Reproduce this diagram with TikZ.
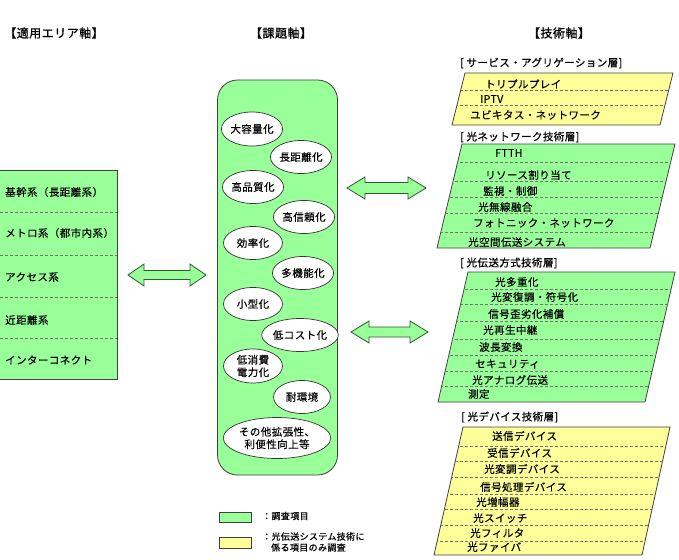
\documentclass[tikz,border=0pt]{standalone}
\usepackage{fontspec}
\setmainfont{Noto Sans CJK JP}[LetterSpace=4,FakeBold=0.35]
\usetikzlibrary{shapes.geometric}
\definecolor{lgreen}{HTML}{99FF99}
\definecolor{lyellow}{HTML}{FFFF99}
\definecolor{edgec}{HTML}{404040}
\definecolor{arrowedge}{HTML}{2E5A2E}
\newcommand{\dblarrow}[5]{% x1, x2, yc, head len, shaft half
  \draw[bigarrow] (#1,#3) -- (#1+#4,#3-11) -- (#1+#4,#3-#5) -- (#2-#4,#3-#5) -- (#2-#4,#3-11)
    -- (#2,#3) -- (#2-#4,#3+11) -- (#2-#4,#3+#5) -- (#1+#4,#3+#5) -- (#1+#4,#3+11) -- cycle;}
\begin{document}
\begin{tikzpicture}[x=1pt,y=-1pt,
  font=\fontsize{10.5}{12.5}\selectfont,
  hdr/.style={font=\fontsize{12}{14}\selectfont\addfontfeature{FakeBold=1.2}, inner sep=0},
  lyr/.style={font=\fontsize{10.5}{12}\selectfont\addfontfeature{FakeBold=0.8}, anchor=west, inner sep=0},
  itm/.style={anchor=west, inner sep=0},
  area/.style={draw=edgec, fill=lgreen, line width=0.8pt},
  rowline/.style={draw=black!55, densely dashed, line width=0.4pt},
  goal/.style={ellipse, draw=black!80, fill=white, line width=0.7pt, inner sep=0, align=center},
  bigarrow/.style={draw=arrowedge, fill=lgreen, line width=0.8pt, line join=miter},
  legtxt/.style={font=\fontsize{9}{11}\selectfont\addfontfeature{FakeBold=0.8}, anchor=west, inner sep=0, align=left}]
\useasboundingbox (0,0) rectangle (679,559);

% headers
\node[hdr] (h1) at (54,33) {【適用エリア軸】};
\node[hdr] (h2) at (281,33) {【課題軸】};
\node[hdr] (h3) at (559,33) {【技術軸】};

% application area box
\path[area] (-5,170) rectangle (117,379);
\foreach \y in {212,255,297,338} \draw[rowline] (-5,\y) -- (117,\y);
\node[itm] (a1) at (5,192) {基幹系（長距離系）};
\node[itm] (a2) at (5,233) {メトロ系（都市内系）};
\node[itm] (a3) at (5,277) {アクセス系};
\node[itm] (a4) at (5,320) {近距離系};
\node[itm] (a5) at (5,360) {インターコネクト};

% issue axis
\node[draw=edgec, fill=lgreen, line width=0.8pt, rounded corners=20pt,
      minimum width=120pt, minimum height=395pt] (issue) at (277.5,277.5) {};
\node[goal, minimum width=59pt, minimum height=34pt] (g1) at (252,129) {大容量化};
\node[goal, minimum width=58pt, minimum height=33pt] (g2) at (301,157) {長距離化};
\node[goal, minimum width=59pt, minimum height=33pt] (g3) at (253,187) {高品質化};
\node[goal, minimum width=57pt, minimum height=33pt] (g4) at (304,217) {高信頼化};
\node[goal, minimum width=59pt, minimum height=33pt] (g5) at (253,243) {効率化};
\node[goal, minimum width=57pt, minimum height=33pt] (g6) at (303,273) {多機能化};
\node[goal, minimum width=59pt, minimum height=33pt] (g7) at (253,304) {小型化};
\node[goal, minimum width=64pt, minimum height=33pt] (g8) at (300,335) {低コスト化};
\node[goal, minimum width=59pt, minimum height=34pt, align=left] (g9) at (253,366) {低消費\\電力化};
\node[goal, minimum width=57pt, minimum height=33pt] (g10) at (302,397) {耐環境};
\node[goal, minimum width=101pt, minimum height=41pt] (g11) at (277,438) {その他拡張性、\\利便性向上等};

% double arrows
\dblarrow{128}{206}{275}{16}{4.5}
\dblarrow{347}{426}{188}{18}{5.5}
\dblarrow{351}{428}{332}{18}{5}

% ---- technology axis ----
% layer 1: service aggregation (yellow)
\node[lyr] (l1) at (460,63) {[ サービス・アグリゲーション層]};
\coordinate (y1TL) at (465,73); \coordinate (y1TR) at (673,73);
\coordinate (y1BR) at (660,125); \coordinate (y1BL) at (452,125);
\draw[area, fill=lyellow] (y1TL) -- (y1TR) -- (y1BR) -- (y1BL) -- cycle;
\begin{scope}
  \clip (y1TL) -- (y1TR) -- (y1BR) -- (y1BL) -- cycle;
  \foreach \y in {90,105} \draw[rowline] (420,\y) -- (690,\y);
\end{scope}
\node[itm] (s1) at (485,84) {トリプルプレイ};
\node[itm] (s2) at (480,99) {IPTV};
\node[itm] (s3) at (470,115) {ユビキタス・ネットワーク};

% layer 2: optical network (green)
\node[lyr] (l2) at (460,137) {[ 光ネットワーク技術層]};
\coordinate (g1TL) at (462,144); \coordinate (g1TR) at (675,144);
\coordinate (g1BR) at (650,248); \coordinate (g1BL) at (437,248);
\draw[area] (g1TL) -- (g1TR) -- (g1BR) -- (g1BL) -- cycle;
\begin{scope}
  \clip (g1TL) -- (g1TR) -- (g1BR) -- (g1BL) -- cycle;
  \foreach \y in {162,181,197,213,232} \draw[rowline] (420,\y) -- (690,\y);
\end{scope}
\node[itm] (n1) at (495,153) {FTTH};
\node[itm] (n2) at (485,175) {リソース割り当て};
\node[itm] (n3) at (483,191) {監視・制御};
\node[itm] (n4) at (478,207) {光無線融合};
\node[itm] (n5) at (473,223) {フォトニック・ネットワーク};
\node[itm] (n6) at (468,242) {光空間伝送システム};

% layer 3: transmission (green)
\node[lyr] (l3) at (460,263) {[ 光伝送方式技術層]};
\coordinate (g2TL) at (468,272); \coordinate (g2TR) at (675,272);
\coordinate (g2BR) at (645,402); \coordinate (g2BL) at (438,402);
\draw[area] (g2TL) -- (g2TR) -- (g2BR) -- (g2BL) -- cycle;
\begin{scope}
  \clip (g2TL) -- (g2TR) -- (g2BR) -- (g2BL) -- cycle;
  \foreach \y in {289,304,321,339,355,371,386} \draw[rowline] (420,\y) -- (690,\y);
\end{scope}
\node[itm] (t1) at (495,282) {光多重化};
\node[itm] (t2) at (491,297) {光変復調・符号化};
\node[itm] (t3) at (488,314) {信号歪劣化補償};
\node[itm] (t4) at (483,330) {光再生中継};
\node[itm] (t5) at (479,347) {波長変換};
\node[itm] (t6) at (475,364) {セキュリティ};
\node[itm] (t7) at (472,380) {光アナログ伝送};
\node[itm] (t8) at (468,394) {測定};

% layer 4: devices (yellow)
\node[lyr] (l4) at (461,417) {[ 光デバイス技術層]};
\coordinate (y2TL) at (463,427); \coordinate (y2TR) at (670,427);
\coordinate (y2BR) at (642,555); \coordinate (y2BL) at (434,555);
\draw[area, fill=lyellow] (y2TL) -- (y2TR) -- (y2BR) -- (y2BL) -- cycle;
\begin{scope}
  \clip (y2TL) -- (y2TR) -- (y2BR) -- (y2BL) -- cycle;
  \foreach \y in {446,461,477,494,509,525,541} \draw[rowline] (420,\y) -- (690,\y);
\end{scope}
\node[itm] (d1) at (492,436) {送信デバイス};
\node[itm] (d2) at (487,453) {受信デバイス};
\node[itm] (d3) at (484,469) {光変調デバイス};
\node[itm] (d4) at (480,487) {信号処理デバイス};
\node[itm] (d5) at (476,502) {光増幅器};
\node[itm] (d6) at (473,518) {光スイッチ};
\node[itm] (d7) at (470,533) {光フィルタ};
\node[itm] (d8) at (467,547) {光ファイバ};

% legend
\path[area] (219,512) rectangle (251,522);
\path[area, fill=lyellow] (219,537) rectangle (251,548);
\node[legtxt] (lg1) at (262,516) {：調査項目};
\node[legtxt] (lg2) at (262,542) {：光伝送システム技術に\\\hspace*{9pt}係る項目のみ調査};
\end{tikzpicture}
\end{document}
